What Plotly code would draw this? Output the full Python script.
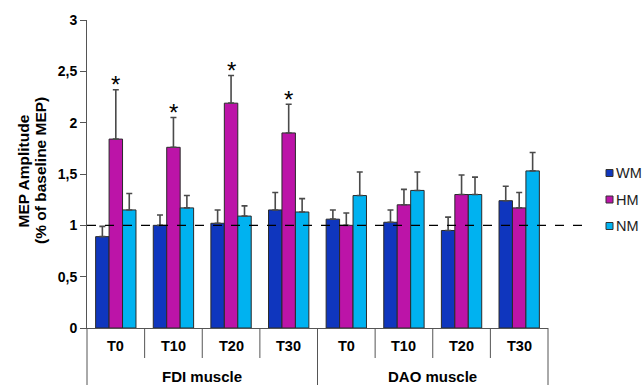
import plotly.graph_objects as go

# ---- data ----
categories = ["T0", "T10", "T20", "T30", "T0", "T10", "T20", "T30"]
groups = ["FDI muscle", "DAO muscle"]
series = ["WM", "HM", "NM"]
wm = [0.89, 1.00, 1.02, 1.15, 1.06, 1.03, 0.95, 1.24]
hm = [1.84, 1.76, 2.19, 1.90, 1.00, 1.20, 1.30, 1.17]
nm = [1.15, 1.17, 1.09, 1.13, 1.29, 1.34, 1.30, 1.53]
wm_err = [0.10, 0.10, 0.13, 0.17, 0.09, 0.12, 0.13, 0.14]
hm_err = [0.48, 0.29, 0.27, 0.28, 0.12, 0.15, 0.19, 0.15]
nm_err = [0.16, 0.12, 0.10, 0.13, 0.23, 0.18, 0.17, 0.18]
significant = [True, True, True, True, False, False, False, False]
ytick_vals = [0, 0.5, 1, 1.5, 2, 2.5, 3]
ytick_text = ["0", "0,5", "1", "1,5", "2", "2,5", "3"]
title_lines = ["MEP Amplitude", "(% of baseline MEP)"]
colors = ["#0F36BE", "#BC14A8", "#00B2F0"]

FONT = "Liberation Sans, Arial, sans-serif"
W, H = 643, 385
ML, MR, MT, MB = 87, 95, 20, 57
PW, PH = W - ML - MR, H - MT - MB

fig = go.Figure()
xs = list(range(len(categories)))
for name, vals, errs, col in zip(series, [wm, hm, nm], [wm_err, hm_err, nm_err], colors):
    fig.add_trace(go.Bar(
        x=xs, y=vals, name=name, showlegend=False,
        marker=dict(color=col, line=dict(color="#2a2a2a", width=1)),
        error_y=dict(type="data", array=errs, arrayminus=[0] * len(errs),
                     symmetric=False, color="#4a4a4a", thickness=1.6, width=3),
    ))

def px_x(p):  # pixel -> paper x
    return (p - ML) / PW

def px_y(p):  # pixel -> paper y
    return (H - MB - p) / PH

shapes = []
# dashed baseline at 1 (value 1 of the 0..3 y range)
shapes.append(dict(type="line", xref="paper", yref="paper", x0=0, x1=px_x(584),
                   y0=1 / 3, y1=1 / 3,
                   line=dict(color="black", width=1.3, dash="dash")))
# left axis extension below the plot
shapes.append(dict(type="line", xref="paper", yref="paper", x0=0, x1=0, y0=0, y1=px_y(H),
                   line=dict(color="#555", width=1)))
n = len(categories)
for k in range(1, n + 1):
    xk = k / n
    long = (k % 4 == 0)
    shapes.append(dict(type="line", xref="paper", yref="paper", x0=xk, x1=xk, y0=0,
                       y1=px_y(H if long else 358),
                       line=dict(color="#555", width=1)))

annotations = []
for i, c in enumerate(categories):
    annotations.append(dict(x=i, y=px_y(346), xref="x", yref="paper", text="<b>%s</b>" % c,
                            showarrow=False, font=dict(family=FONT, size=14.5, color="black"),
                            xanchor="center", yanchor="middle"))
for g, name in enumerate(groups):
    annotations.append(dict(x=1.5 + 4 * g, y=px_y(376), xref="x", yref="paper",
                            text="<b>%s</b>" % name, showarrow=False,
                            font=dict(family=FONT, size=15, color="black"),
                            xanchor="center", yanchor="middle"))
for i, s in enumerate(significant):
    if s:
        annotations.append(dict(x=i, y=hm[i] + hm_err[i], xref="x", yref="y", text="*",
                                showarrow=False, font=dict(family=FONT, size=24, color="black"),
                                xanchor="center", yanchor="middle", yshift=5))
for j, line in enumerate(title_lines):
    annotations.append(dict(x=px_x(22.5 + 17.5 * j), y=px_y(171), xref="paper", yref="paper",
                            text="<b>%s</b>" % line, textangle=-90,
                            xanchor="center", yanchor="middle",
                            showarrow=False, font=dict(family=FONT, size=15.5, color="black")))

# legend (drawn manually so it can sit at the right edge like the original)
leg_y = [173, 199.5, 226]
for name, col, yy in zip(series, colors, leg_y):
    shapes.append(dict(type="rect", xref="paper", yref="paper",
                       x0=px_x(606), x1=px_x(613), y0=px_y(yy + 3.5), y1=px_y(yy - 3.5),
                       fillcolor=col, line=dict(color="#333", width=1)))
    annotations.append(dict(x=px_x(614.5), y=px_y(yy), xref="paper", yref="paper",
                            text=name, showarrow=False, xanchor="left", yanchor="middle",
                            borderpad=0,
                            font=dict(family=FONT, size=14.5, color="#222")))

fig.update_layout(
    width=W, height=H, margin=dict(l=ML, r=MR, t=MT, b=MB),
    paper_bgcolor="white", plot_bgcolor="white",
    barmode="group", bargap=0.3, bargroupgap=0,
    font=dict(family=FONT, color="black"),
    shapes=shapes, annotations=annotations,
    showlegend=False,
    xaxis=dict(range=[-0.5, n - 0.5], showticklabels=False, showgrid=False, zeroline=False,
               showline=True, linecolor="#555", linewidth=1, ticks=""),
    yaxis=dict(range=[0, 3], tickvals=ytick_vals, ticktext=["<b>%s</b>" % t for t in ytick_text],
               showgrid=False, zeroline=False, showline=True, linecolor="#555", linewidth=1,
               ticks="outside", ticklen=6, tickcolor="#555",
               tickfont=dict(family=FONT, size=14, color="black")),
)

fig.write_html("out.html")
